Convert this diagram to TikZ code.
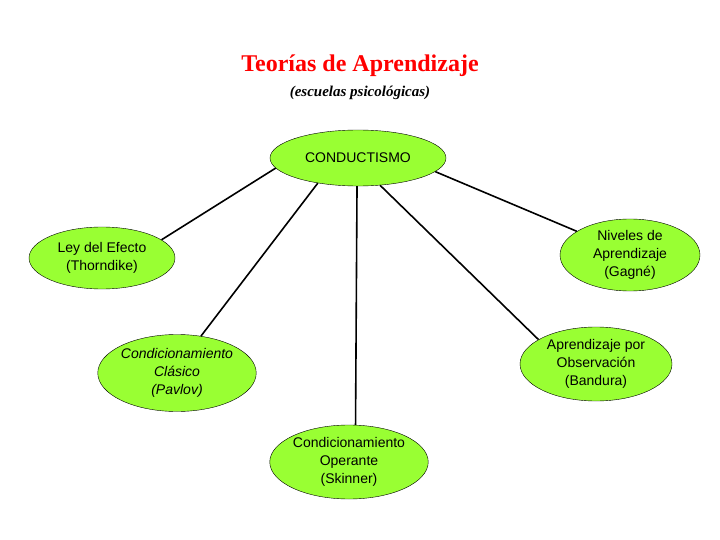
\documentclass[tikz,border=0pt]{standalone}
\usepackage{fontspec}
\setmainfont{Liberation Serif}
\newfontfamily\arialf{Liberation Sans}
\usetikzlibrary{shapes.geometric}
\definecolor{leaf}{RGB}{153,255,51}
\begin{document}
\begin{tikzpicture}[x=1pt,y=-1pt,
  bub/.style={ellipse,draw=black,fill=leaf,inner sep=0pt,align=center,font=\arialf\fontsize{14}{18}\selectfont},
  link/.style={draw=black,line width=1.6pt}]
\useasboundingbox (0,0) rectangle (720,540);
\node[text=red,font=\bfseries\fontsize{24}{28}\selectfont] (t) at (360,66) {Teorías de Aprendizaje};
\node[font=\bfseries\itshape\fontsize{15}{18}\selectfont] (s) at (360,93) {(escuelas psicológicas)};
\node[bub,minimum width=176,minimum height=56] (c) at (358,158) {CONDUCTISMO};
\node[bub,minimum width=146,minimum height=62] (ley) at (102,258) {Ley del Efecto\\(Thorndike)};
\node[bub,minimum width=140,minimum height=72] (niv) at (630,255) {Niveles de\\Aprendizaje\\(Gagné)};
\node[bub,minimum width=150,minimum height=77,font=\arialf\itshape\fontsize{14}{18}\selectfont] (cla) at (177,373) {Condicionamiento\\Clásico\\(Pavlov)};
\node[bub,minimum width=152,minimum height=74] (obs) at (596,364) {Aprendizaje por\\Observación\\(Bandura)};
\node[bub,minimum width=156,minimum height=74] (ope) at (349,462) {Condicionamiento\\Operante\\(Skinner)};
\draw[link] (c.187) -- (ley.17);
\draw[link] (c.212) -- (cla.57);
\draw[link] (c.268) -- (ope.80);
\draw[link] (c.309) -- (obs.157);
\draw[link] (c.350) -- (niv.156);
\end{tikzpicture}
\end{document}
